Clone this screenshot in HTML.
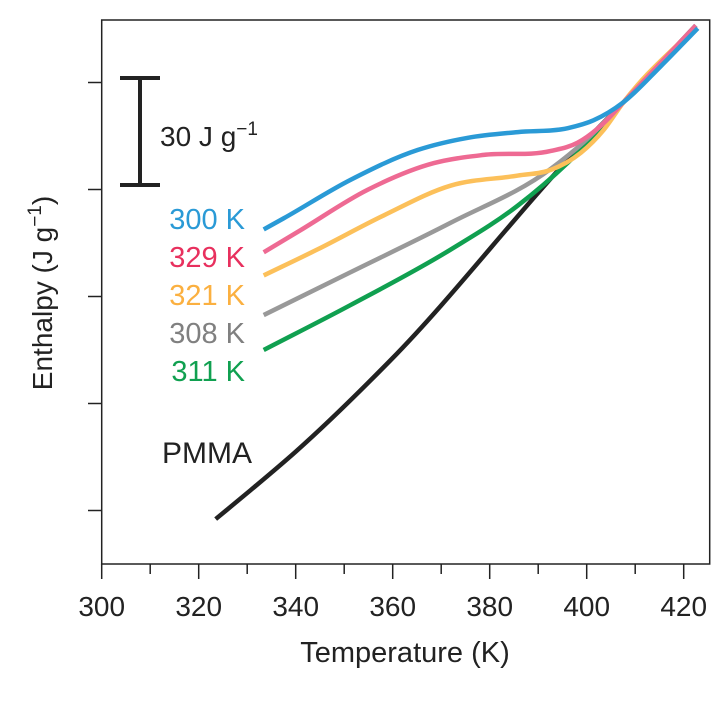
<!DOCTYPE html>
<html><head><meta charset="utf-8"><style>
body{margin:0;background:#fff;}
svg text{font-family:"Liberation Sans",sans-serif;}
</style></head><body>
<svg width="726" height="698" viewBox="0 0 726 698" xmlns="http://www.w3.org/2000/svg">
<g id="axes"></g><g id="series"></g>
<g stroke="#222" stroke-width="4">
<line x1="140" y1="78" x2="140" y2="185"/><line x1="120" y1="78" x2="160" y2="78"/><line x1="120" y1="185" x2="160" y2="185"/></g>
<text x="160" y="146" font-size="28" fill="#222">30 J g<tspan dy="-11" font-size="19">−1</tspan></text>
<g font-size="29" text-anchor="end">
<text x="245" y="229" fill="#2a9ad6">300 K</text>
<text x="245" y="267" fill="#e8305e">329 K</text>
<text x="245" y="305" fill="#fbb040">321 K</text>
<text x="245" y="343" fill="#808080">308 K</text>
<text x="245" y="381" fill="#10a050">311 K</text>
</g>
<text x="162" y="463" font-size="30" fill="#222">PMMA</text>
<text x="405" y="662" font-size="29" fill="#222" text-anchor="middle">Temperature (K)</text>
<text transform="translate(52,293) rotate(-90)" font-size="28" fill="#222" text-anchor="middle">Enthalpy (J g<tspan dy="-11" font-size="19">−1</tspan><tspan dy="11">)</tspan></text>
</svg>
<script>
const xTicks=[300,320,340,360,380,400,420];
const yTicks=[15,45,75,105,135];
const blueT=[333.4,337.5,351.3,365.2,375.5,385.8,396.1,401.4,407.6,415.3,422.9];
const blueH=[93.8,96.9,107.7,116.1,119.5,121.1,122.2,124.4,129.5,139.6,150.2];
const pinkT=[333.4,341.0,354.8,368.5,378.8,392.6,398.1,403.5,407.6,422.5];
const pinkH=[87.4,93.6,104.9,112.4,114.7,115.8,118.1,123.6,129.5,151.0];
const yellowT=[333.4,344.5,358.1,372.0,385.8,392.6,398.8,403.5,407.6,422.5];
const yellowH=[80.9,88.2,97.7,106.1,108.9,110.5,115.3,121.7,129.5,150.7];
const grayT=[333.4,351.3,372.0,392.6,399.4,407.6,422.5];
const grayH=[69.8,81.8,95.7,110.8,118.3,129.5,150.7];
const greenT=[333.4,351.3,372.0,385.8,396.1,400.8,407.6,422.5];
const greenH=[60.0,72.6,88.2,100.5,112.5,118.9,129.5,150.7];
const pmmaT=[323.5,330.7,340.0,359.6,399.4,407.6,422.5];
const pmmaH=[12.6,20.7,31.5,57.2,118.1,129.5,151.0];
const NS="http://www.w3.org/2000/svg";
const X=t=>101.7+(t-300)*4.85;
const Y=v=>564-v*107/30;
function mk(tag,at,parent){const e=document.createElementNS(NS,tag);for(const k in at)e.setAttribute(k,at[k]);parent.appendChild(e);return e;}
const ax=document.getElementById('axes');
const frame=mk('rect',{x:101.7,y:20,width:608,height:544,fill:'none',stroke:'#222','stroke-width':1.5},ax);


for(let t=300;t<=425;t+=10){
 const major=xTicks.includes(t);
 const l=mk('line',{x1:X(t),x2:X(t),y1:564,y2:major?579:574,stroke:'#222','stroke-width':1.5},ax);
 
 
}
xTicks.forEach(t=>{
 const tx=mk('text',{x:X(t),y:616,'font-size':28,fill:'#222','text-anchor':'middle'},ax);
 tx.textContent=t;
 
 
});
yTicks.forEach(v=>{
 const l=mk('line',{x1:88,x2:101.7,y1:Y(v),y2:Y(v),stroke:'#222','stroke-width':1.5},ax);
 
 
});
function hermite(pts){
 const n=pts.length,d=[],m=[];
 for(let i=0;i<n-1;i++)d.push((pts[i+1][1]-pts[i][1])/(pts[i+1][0]-pts[i][0]));
 for(let i=0;i<n;i++){
  if(i===0)m.push(d[0]);else if(i===n-1)m.push(d[n-2]);
  else{const h0=pts[i][0]-pts[i-1][0],h1=pts[i+1][0]-pts[i][0];m.push((d[i-1]*h1+d[i]*h0)/(h0+h1));}
 }
 let s=`M${pts[0][0]},${pts[0][1]}`;
 for(let i=0;i<n-1;i++){const h=(pts[i+1][0]-pts[i][0])/3;
  s+=` C${pts[i][0]+h},${pts[i][1]+m[i]*h} ${pts[i+1][0]-h},${pts[i+1][1]-m[i+1]*h} ${pts[i+1][0]},${pts[i+1][1]}`;}
 return s;
}
const sg=document.getElementById('series');
[[pmmaT,pmmaH,'#222','pmma-line'],[greenT,greenH,'#10a050','line-311k'],[grayT,grayH,'#999','line-308k'],[yellowT,yellowH,'#fcc05a','line-321k'],[pinkT,pinkH,'#ee6a93','line-329k'],[blueT,blueH,'#2a9ad6','line-300k']].forEach(([T,H,c,n])=>{
 const p=mk('path',{d:hermite(T.map((t,i)=>[X(t),Y(H[i])])),fill:'none',stroke:c,'stroke-width':4.5},sg);
 
 
});
</script>
</body></html>
